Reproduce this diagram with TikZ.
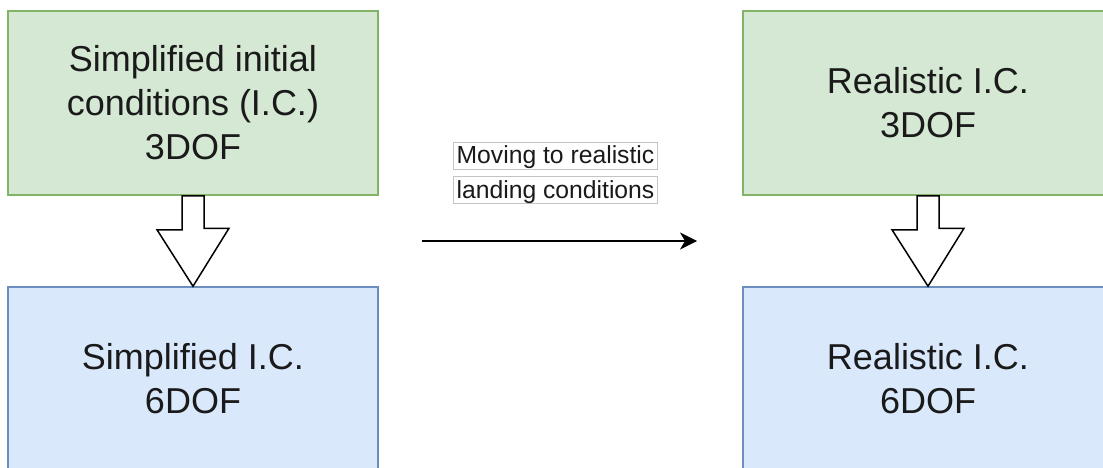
\documentclass[tikz,border=0pt]{standalone}
\usepackage{fontspec}
\setmainfont{Liberation Sans}
\usetikzlibrary{calc,arrows.meta}
\definecolor{greenfill}{HTML}{D5E8D4}
\definecolor{greenline}{HTML}{82B366}
\definecolor{bluefill}{HTML}{DAE8FC}
\definecolor{blueline}{HTML}{6C8EBF}
\definecolor{inkgray}{HTML}{1A1A1A}
\definecolor{labelframe}{HTML}{C4C4C4}
\tikzset{
  stagebox/.style={rectangle, minimum width=370pt, minimum height=184pt,
    line width=1.5pt, align=center, text=inkgray,
    font=\fontsize{36}{44}\selectfont},
  threedof/.style={stagebox, fill=greenfill, draw=greenline},
  sixdof/.style={stagebox, fill=bluefill, draw=blueline},
  blockarrow/.style={draw=black, fill=white, line width=1.5pt, line join=miter},
  edgelabel/.style={draw=labelframe, line width=0.8pt, fill=white, text=inkgray,
    inner xsep=3pt, inner ysep=0pt, text height=22pt, text depth=5pt,
    font=\fontsize{24.7}{27}\selectfont, anchor=base},
  flowarrow/.style={line width=1.5pt, -{Stealth[length=17pt, width=17pt, inset=5pt]}}
}
\begin{document}
\begin{tikzpicture}[x=1pt, y=-1pt]
  \useasboundingbox (0,0) rectangle (1103,468);

  % simulation stages
  \node[threedof] (simp3) at (193,103) {Simplified initial\\conditions (I.C.)\\3DOF};
  \node[sixdof]   (simp6) at (193,379) {Simplified I.C.\\6DOF};
  \node[threedof] (real3) at (928,103) {Realistic I.C.\\3DOF};
  \node[sixdof]   (real6) at (928,379) {Realistic I.C.\\6DOF};

  % hollow block arrows from 3DOF to 6DOF
  \draw[blockarrow] ($(simp3.south)+(-11,0)$) -- ++(0,34) -- ++(-25,0)
    -- (simp6.north) -- ++(36,-58) -- ++(-25,0) -- ($(simp3.south)+(11,0)$) -- cycle;
  \draw[blockarrow] ($(real3.south)+(-11,0)$) -- ++(0,34) -- ++(-25,0)
    -- (real6.north) -- ++(36,-58) -- ++(-25,0) -- ($(real3.south)+(11,0)$) -- cycle;

  % transition between the two columns
  \coordinate (moveStart) at (422,241);
  \coordinate (moveEnd) at (697,241);
  \draw[flowarrow] (moveStart) -- (moveEnd);
  \node[edgelabel] (moveA) at (555.5,164) {Moving to realistic};
  \node[edgelabel] (moveB) at (555.5,198) {landing conditions};
\end{tikzpicture}
\end{document}
